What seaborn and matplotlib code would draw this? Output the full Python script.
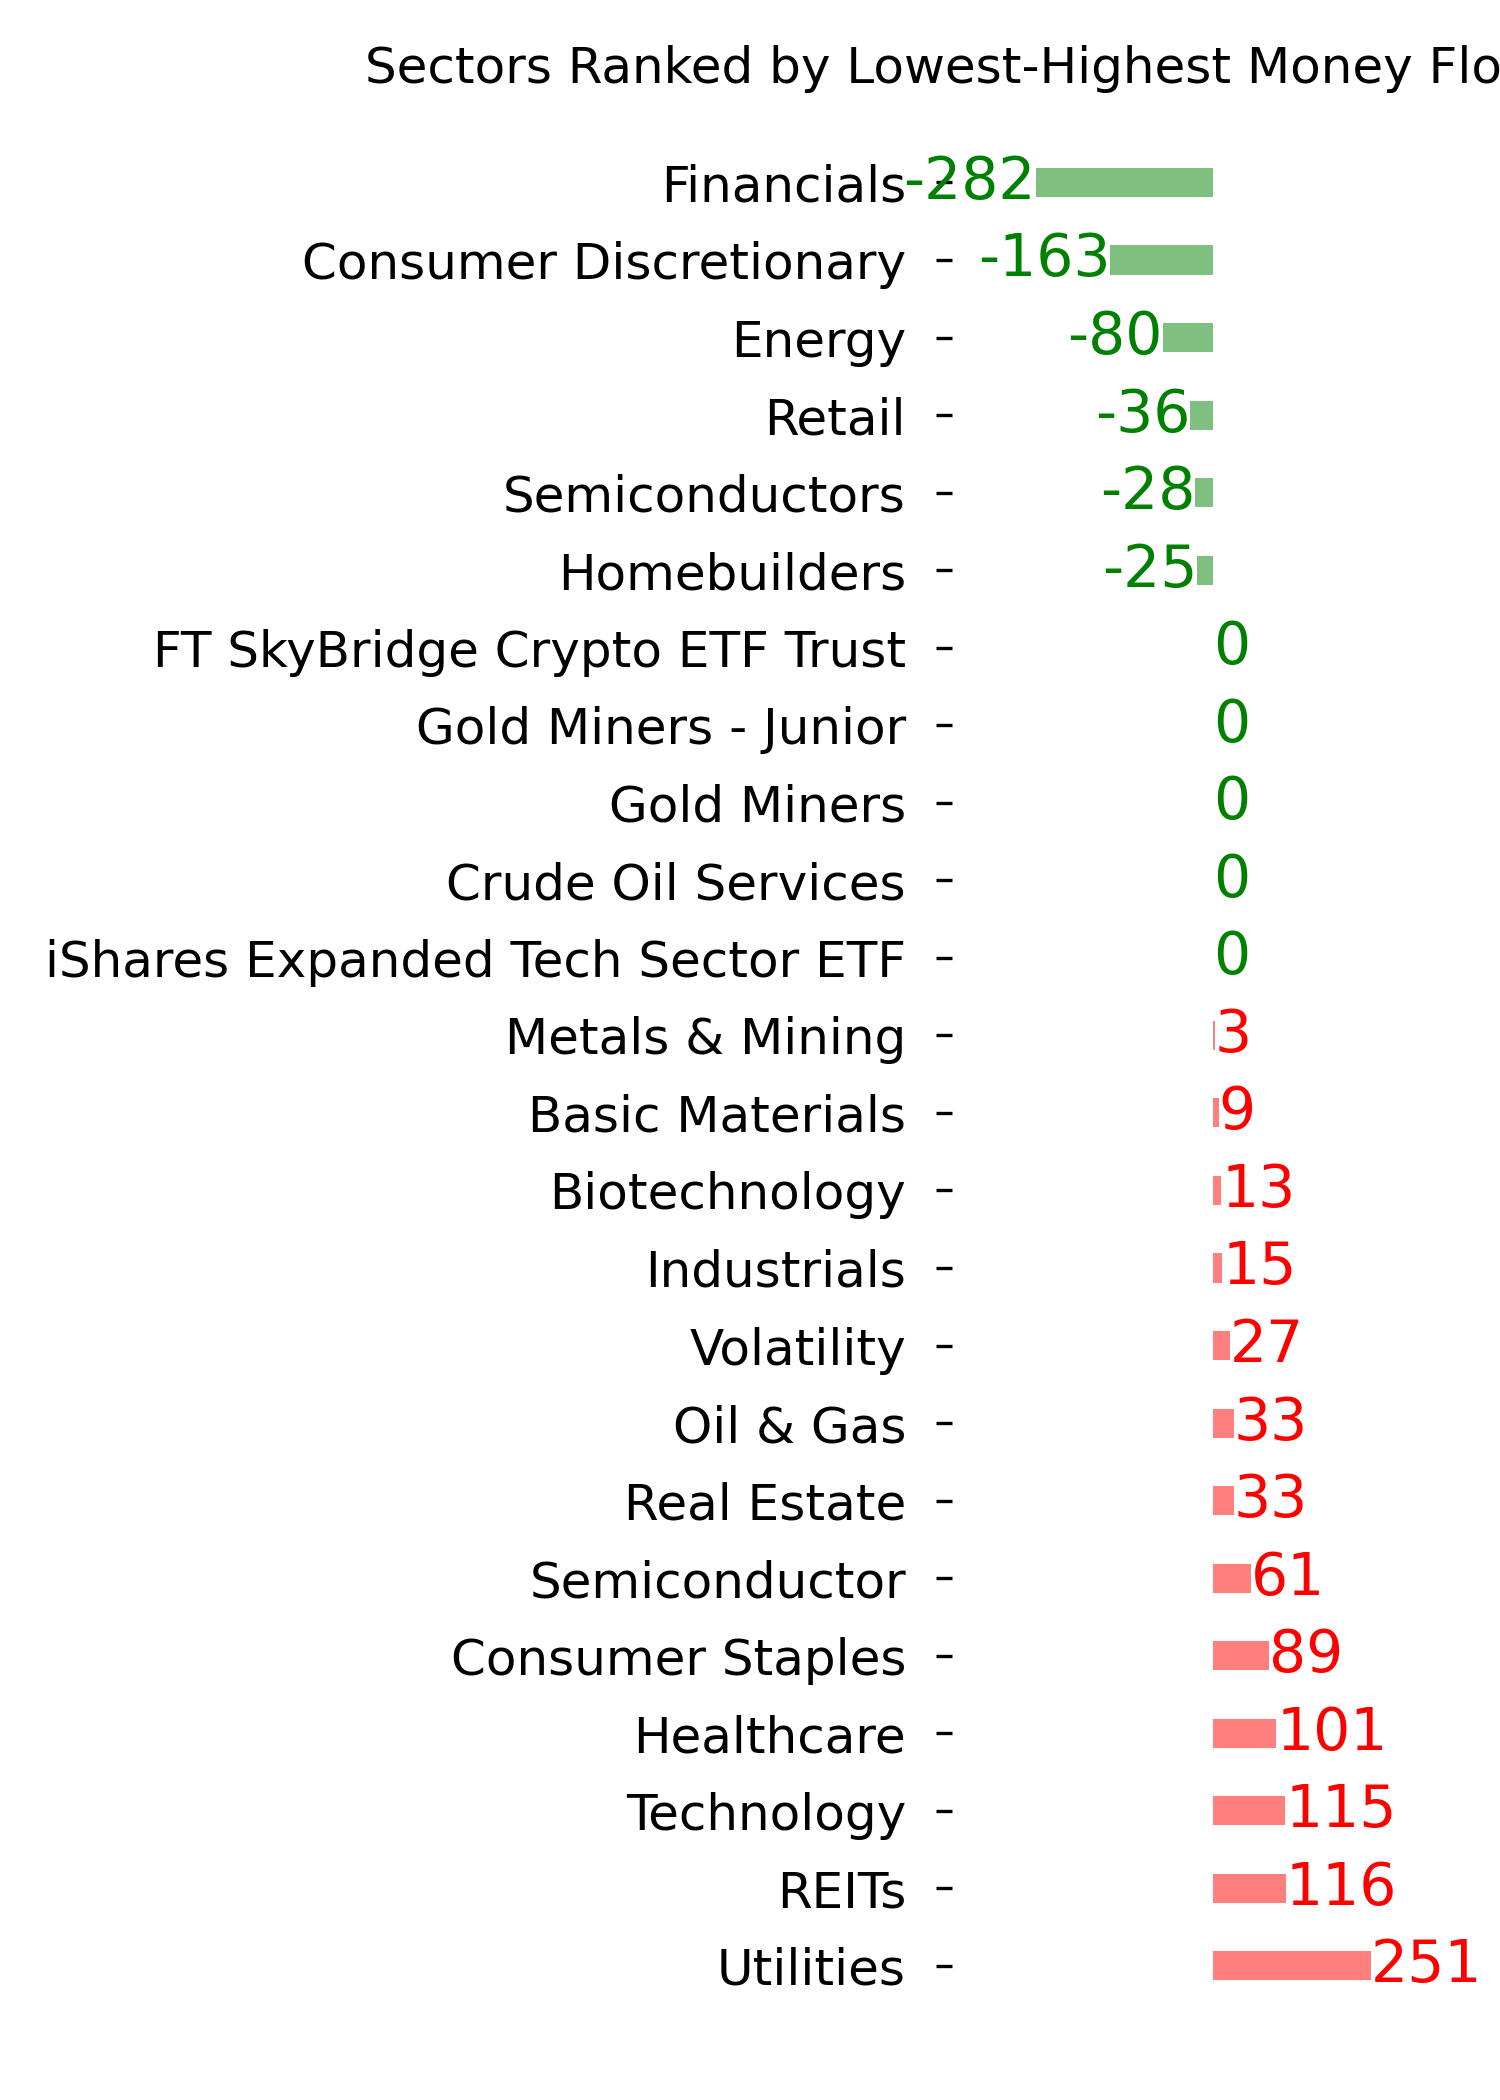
import numpy as np
import pandas as pd
import matplotlib
matplotlib.use("Agg")
import matplotlib.pyplot as plt
import seaborn as sns

# Sector money flow values, lowest -> highest
sectors = [
    "Financials", "Consumer Discretionary", "Energy", "Retail", "Semiconductors",
    "Homebuilders", "FT SkyBridge Crypto ETF Trust", "Gold Miners - Junior",
    "Gold Miners", "Crude Oil Services", "iShares Expanded Tech Sector ETF",
    "Metals & Mining", "Basic Materials", "Biotechnology", "Industrials",
    "Volatility", "Oil & Gas", "Real Estate", "Semiconductor", "Consumer Staples",
    "Healthcare", "Technology", "REITs", "Utilities",
]
money_flow = [-282, -163, -80, -36, -28, -25, 0, 0, 0, 0, 0,
              3, 9, 13, 15, 27, 33, 33, 61, 89, 101, 115, 116, 251]

title = "Sectors Ranked by Lowest-Highest Money Flow"

df = pd.DataFrame({"sector": sectors, "flow": money_flow})
bar_colors = {s: ("green" if v < 0 else "red") for s, v in zip(sectors, money_flow)}

sns.set_style("white")
plt.rcParams['font.family'] = ['DejaVu Sans']
plt.rcParams['text.color'] = 'black'

fig = plt.figure(figsize=(5, 7), dpi=300)
W, H = 1500, 2100
ax = fig.add_axes([952 / W, 0.0, (W - 952) / W, (H - 108) / H])

sns.barplot(data=df, x="flow", y="sector", hue="sector", palette=bar_colors,
            legend=False, orient="h", width=0.375, alpha=0.5, saturation=1,
            linewidth=0, ax=ax)

# value labels next to the bars
for i, v in enumerate(df["flow"]):
    ax.text(v, i, f"{v}", color="green" if v <= 0 else "red",
            ha="right" if v < 0 else "left", va="center", fontsize=14)

ax.set_xlim(-415, 456.6)
ax.set_ylim(24.73, -0.96)
ax.set_xlabel("")
ax.set_ylabel("")
ax.set_xticks([])
ax.tick_params(axis="y", length=3.84, width=0.8, pad=7.2, labelsize=12,
               colors="black", left=True)
for spine in ax.spines.values():
    spine.set_visible(False)

fig.text(365 / W, 1 - 83 / H, title, ha="left", va="baseline", fontsize=12,
         color="black")

fig.savefig("out.png", dpi=300)
